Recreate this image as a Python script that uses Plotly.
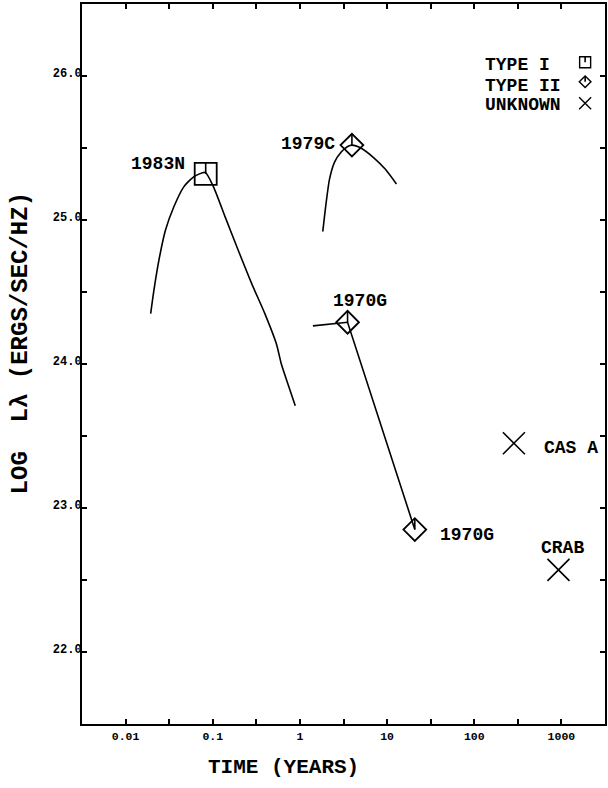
import numpy as np
import plotly.graph_objects as go

# ---------------- data ----------------
sn1983n_t = [0.0194, 0.0211, 0.0241, 0.0287, 0.0357, 0.0465, 0.0604, 0.082,
             0.102, 0.139, 0.196, 0.279, 0.396, 0.537, 0.612, 0.730, 0.884]
sn1983n_L = [24.35, 24.51, 24.72, 24.93, 25.09, 25.23, 25.30, 25.33,
             25.23, 25.02, 24.79, 24.56, 24.35, 24.14, 24.00, 23.86, 23.71]

sn1979c_t = [1.83, 1.99, 2.18, 2.49, 2.96, 3.53, 3.95, 5.00, 7.10, 9.62, 12.8]
sn1979c_L = [24.92, 25.11, 25.28, 25.40, 25.47, 25.51, 25.52, 25.50, 25.43, 25.35, 25.25]

sn1970g_t = [1.41, 3.52, 20.8]
sn1970g_L = [24.265, 24.29, 22.85]

type1_names = ["1983N"]
type1_t = [0.083]
type1_L = [25.32]

type2_names = ["1979C", "1970G", "1970G"]
type2_t = [3.95, 3.52, 20.8]
type2_L = [25.52, 24.29, 22.85]

unknown_names = ["CAS A", "CRAB"]
unknown_t = [285, 925]
unknown_L = [23.45, 22.57]

x_tickvals = [0.01, 10 ** -1.5, 0.1, 10 ** -0.5, 1, 10 ** 0.5, 10, 10 ** 1.5,
              100, 10 ** 2.5, 1000, 10 ** 3.5]
x_ticktext = ["0.01", "", "0.1", "", "1", "", "10", "", "100", "", "1000", ""]
y_tickvals = [22.0, 22.5, 23.0, 23.5, 24.0, 24.5, 25.0, 25.5, 26.0]
y_ticktext = ["22.0", "", "23.0", "", "24.0", "", "25.0", "", "26.0"]

legend_labels = ["TYPE I", "TYPE II", "UNKNOWN"]

# ---------------- styling ----------------
MONO = "Liberation Mono"
BLACK = "black"
fig = go.Figure()

curve_line = dict(color=BLACK, width=1.6, shape="spline", smoothing=0.6)
fig.add_trace(go.Scatter(x=sn1983n_t, y=sn1983n_L, mode="lines", line=curve_line))
fig.add_trace(go.Scatter(x=sn1979c_t, y=sn1979c_L, mode="lines", line=curve_line))
fig.add_trace(go.Scatter(x=sn1970g_t, y=sn1970g_L, mode="lines",
                         line=dict(color=BLACK, width=1.6)))

SQ = 22
DI = 17.5
fig.add_trace(go.Scatter(x=type1_t, y=type1_L, mode="markers",
                         marker=dict(symbol="square-open", size=SQ, color=BLACK,
                                     line=dict(width=1.8, color=BLACK))))
fig.add_trace(go.Scatter(x=type2_t, y=type2_L, mode="markers",
                         marker=dict(symbol="diamond-open", size=DI, color=BLACK,
                                     line=dict(width=1.8, color=BLACK))))
fig.add_trace(go.Scatter(x=unknown_t, y=unknown_L, mode="markers",
                         marker=dict(symbol="x-thin-open", size=22, color=BLACK,
                                     line=dict(width=1.6, color=BLACK))))

shapes = []
def tick_in_marker(xv, yv, length, xref="x", yref="y"):
    shapes.append(dict(type="line", xref=xref, yref=yref,
                       xsizemode="pixel", xanchor=xv, x0=0, x1=0,
                       ysizemode="pixel", yanchor=yv, y0=0, y1=length,
                       line=dict(color=BLACK, width=1.6)))

for t, L in zip(type1_t, type1_L):
    tick_in_marker(t, L, SQ / 2)
for t, L in zip(type2_t, type2_L):
    tick_in_marker(t, L, DI * 1.3 / 2)

# ---------------- point labels ----------------
lab_font = dict(family=MONO, size=18, color=BLACK, weight="bold")
annotations = []
label_place = {
    ("1983N", 0): dict(xanchor="right", xshift=-19, yshift=10),
    ("1979C", 0): dict(xanchor="right", xshift=-15, yshift=1),
    ("1970G", 0): dict(xanchor="center", xshift=12, yshift=21),
    ("1970G", 1): dict(xanchor="left", xshift=23, yshift=-5),
    ("CAS A", 0): dict(xanchor="left", xshift=28, yshift=-5),
    ("CRAB", 0): dict(xanchor="center", xshift=4, yshift=22),
}
seen = {}
for names, ts, Ls in [(type1_names, type1_t, type1_L),
                      (type2_names, type2_t, type2_L),
                      (unknown_names, unknown_t, unknown_L)]:
    for n, t, L in zip(names, ts, Ls):
        k = seen.get(n, 0)
        seen[n] = k + 1
        p = label_place[(n, k)]
        annotations.append(dict(x=np.log10(t), y=L, xref="x", yref="y", text=n,
                                showarrow=False, font=lab_font, yanchor="middle", **p))

# ---------------- legend (top right, symbols to the right of text) ----------------
leg_text_x = 0.766
leg_text_y = [0.915, 0.886, 0.860]
leg_sym_x = 0.962
leg_sym_y = [0.919, 0.892, 0.862]
for lab, yy in zip(legend_labels, leg_text_y):
    annotations.append(dict(x=leg_text_x, y=yy, xref="paper", yref="paper", text=lab,
                            showarrow=False, xanchor="left", yanchor="middle",
                            font=lab_font))
fig.add_trace(go.Scatter(x=[leg_sym_x], y=[leg_sym_y[0]], xaxis="x2", yaxis="y2",
                         mode="markers",
                         marker=dict(symbol="square-open", size=11, color=BLACK,
                                     line=dict(width=1.4, color=BLACK))))
fig.add_trace(go.Scatter(x=[leg_sym_x], y=[leg_sym_y[1]], xaxis="x2", yaxis="y2",
                         mode="markers",
                         marker=dict(symbol="diamond-open", size=9, color=BLACK,
                                     line=dict(width=1.4, color=BLACK))))
fig.add_trace(go.Scatter(x=[leg_sym_x], y=[leg_sym_y[2]], xaxis="x2", yaxis="y2",
                         mode="markers",
                         marker=dict(symbol="x-thin-open", size=12, color=BLACK,
                                     line=dict(width=1.4, color=BLACK))))
tick_in_marker(leg_sym_x, leg_sym_y[0], 5.5, xref="x2", yref="y2")
tick_in_marker(leg_sym_x, leg_sym_y[1], 5.8, xref="x2", yref="y2")

# ---------------- axis titles ----------------
annotations.append(dict(x=0.385, y=0, xref="paper", yref="paper",
                        text="TIME (YEARS)", showarrow=False, xanchor="center",
                        yanchor="middle", yshift=-43,
                        font=dict(family=MONO, size=21, color=BLACK, weight="bold")))
annotations.append(dict(x=-0.118, y=0.529, xref="paper", yref="paper",
                        text="LOG  L\u03bb (ERGS/SEC/HZ)", showarrow=False,
                        textangle=-90, xanchor="center", yanchor="middle",
                        font=dict(family=MONO, size=24, color=BLACK, weight="bold")))

axis_common = dict(showgrid=False, zeroline=False, showline=True, linecolor=BLACK,
                   linewidth=2, ticks="inside", ticklen=5, tickwidth=1.5,
                   tickcolor=BLACK, mirror="ticks")

fig.update_layout(
    width=608, height=788,
    margin=dict(l=82, r=1, t=4, b=64),
    paper_bgcolor="white", plot_bgcolor="white",
    showlegend=False,
    shapes=shapes,
    annotations=annotations,
    xaxis=dict(type="log", range=[-2.5, 3.5], tickmode="array",
               tickvals=x_tickvals, ticktext=x_ticktext,
               tickfont=dict(family=MONO, size=11.5, color=BLACK, weight="bold"),
               **axis_common),
    yaxis=dict(range=[21.5, 26.5], tickmode="array",
               tickvals=y_tickvals, ticktext=y_ticktext,
               tickfont=dict(family=MONO, size=12, color=BLACK, weight="bold"),
               ticklabelshift=-3, ticklabelstandoff=-4,
               **axis_common),
    xaxis2=dict(overlaying="x", range=[0, 1], visible=False),
    yaxis2=dict(overlaying="y", range=[0, 1], visible=False),
)

fig.write_html("out.html", config={"displayModeBar": False},
               post_script="document.body.style.margin='0';document.body.style.overflow='hidden';")
